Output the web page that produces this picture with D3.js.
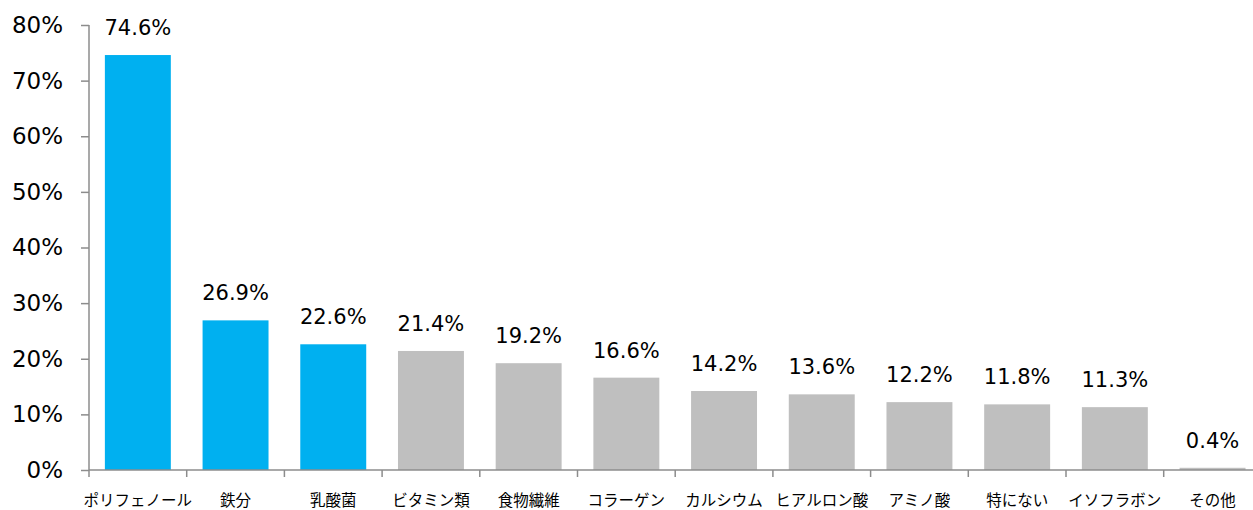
<!DOCTYPE html>
<html><head><meta charset="utf-8">
<script src="https://cdn.jsdelivr.net/npm/d3@7"></script>
<style>body{margin:0;background:#fff}</style>
</head><body><svg id="c" width="1253" height="510"></svg>
<script>
const categories = ["ポリフェノール","鉄分","乳酸菌","ビタミン類","食物繊維","コラーゲン","カルシウム","ヒアルロン酸","アミノ酸","特にない","イソフラボン","その他"];
const values = [74.6,26.9,22.6,21.4,19.2,16.6,14.2,13.6,12.2,11.8,11.3,0.4];
const highlighted = ["ポリフェノール","鉄分","乳酸菌"];
const yTicks = [0,10,20,30,40,50,60,70,80];

const svg = d3.select("#c");
const x = d3.scaleBand().domain(categories).range([89, 89+12*97.7]).paddingInner(0.325).paddingOuter(0.1625);
const y = d3.scaleLinear().domain([0,80]).range([470,25]);
const numFont = "'DejaVu Sans', Verdana, sans-serif";
const jpFont = "'Noto Sans CJK JP', sans-serif";

svg.selectAll("rect.bar").data(values).enter().append("rect")
  .attr("x",(d,i)=>x(categories[i]))
  .attr("width",x.bandwidth())
  .attr("y",d=>y(d))
  .attr("height",d=>y(0)-y(d))
  .attr("fill",(d,i)=>highlighted.includes(categories[i])?"#00B0F0":"#BFBFBF");

svg.selectAll("text.val").data(values).enter().append("text")
  .attr("x",(d,i)=>x(categories[i])+x.bandwidth()/2)
  .attr("y",d=>y(d)-20)
  .attr("text-anchor","middle")
  .attr("font-family",numFont).attr("font-size",21).attr("fill","#000")
  .text(d=>d.toFixed(1)+"%");

// y axis
const yAxis = d3.axisLeft(y).tickValues(yTicks).tickSize(8).tickPadding(18).tickFormat(d=>d+"%");
const ga = svg.append("g").attr("transform","translate(89,0)").call(yAxis);
ga.select(".domain").attr("stroke","#8c8c8c").attr("stroke-width",1.5).attr("d","M0,25V470");
ga.selectAll(".tick line").attr("stroke","#8c8c8c").attr("stroke-width",1.5);
ga.selectAll(".tick text").attr("font-family",numFont).attr("font-size",23).attr("fill","#000");

// x axis baseline and ticks
const step = x.step();
const xb = svg.append("g");
xb.append("line").attr("x1",89).attr("x2",1253).attr("y1",470).attr("y2",470).attr("stroke","#8c8c8c").attr("stroke-width",1.5);
xb.selectAll("line.t").data(d3.range(categories.length+1)).enter().append("line")
  .attr("x1",i=>89+i*step).attr("x2",i=>89+i*step).attr("y1",470).attr("y2",477)
  .attr("stroke","#8c8c8c").attr("stroke-width",1.5);
xb.selectAll("text.cat").data(categories).enter().append("text")
  .attr("x",d=>x(d)+x.bandwidth()/2)
  .attr("y",506)
  .attr("text-anchor","middle")
  .attr("font-family",jpFont).attr("font-size",15.5).attr("fill","#000")
  .text(d=>d);
</script></body></html>
